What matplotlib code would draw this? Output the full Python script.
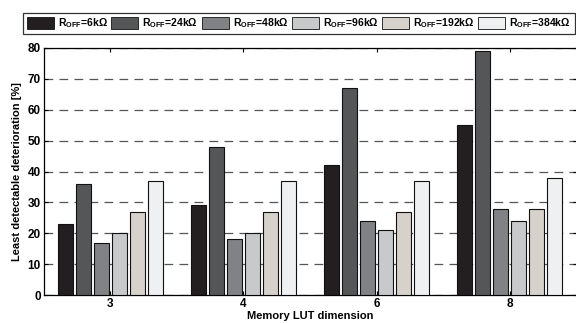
import matplotlib
matplotlib.use("Agg")
import matplotlib.pyplot as plt
import numpy as np
from matplotlib.patches import Patch

plt.rcParams['font.family'] = ['Liberation Sans', 'DejaVu Sans']
plt.rcParams['font.weight'] = 'bold'
plt.rcParams['mathtext.fontset'] = 'custom'
plt.rcParams['mathtext.rm'] = 'Liberation Sans:bold'
plt.rcParams['mathtext.it'] = 'Liberation Sans:bold'
plt.rcParams['mathtext.bf'] = 'Liberation Sans:bold'
plt.rcParams['mathtext.default'] = 'rm'

categories = ['3', '4', '6', '8']
series_labels = [r'R$_{OFF}$=6kΩ', r'R$_{OFF}$=24kΩ', r'R$_{OFF}$=48kΩ',
                 r'R$_{OFF}$=96kΩ', r'R$_{OFF}$=192kΩ', r'R$_{OFF}$=384kΩ']
values = [
    [23, 29, 42, 55],   # 6k
    [36, 48, 67, 79],   # 24k
    [17, 18, 24, 28],   # 48k
    [20, 20, 21, 24],   # 96k
    [27, 27, 27, 28],   # 192k
    [37, 37, 37, 38],   # 384k
]
colors = ['#231f20', '#545658', '#808285', '#c8c9cb', '#d6d2cb', '#eff0f2']
yticks = [0, 10, 20, 30, 40, 50, 60, 70, 80]

fig = plt.figure(figsize=(5.76, 3.23), dpi=100)
ax = fig.add_axes([43.5/576, 1-295/323, 533/576, (295-48)/323])

x = np.arange(len(categories))
step = 0.135
bw = 0.112
for i, (vals, c) in enumerate(zip(values, colors)):
    off = (i - 2.5) * step
    ax.bar(x + off, vals, width=bw, color=c, edgecolor='#111111', linewidth=0.8, zorder=3)

ax.set_xlim(-0.5, len(categories) - 0.5)
ax.set_ylim(0, 80)
ax.set_yticks(yticks)
ax.set_xticks(x)
ax.set_xticklabels(categories)
ax.tick_params(direction='in', top=True, right=True, labelsize=8.5, length=3, width=0.8, pad=2)
for lbl in ax.get_xticklabels() + ax.get_yticklabels():
    lbl.set_fontweight('bold')
ax.yaxis.grid(True, linestyle=(0, (7, 5)), color='#555555', linewidth=0.9, zorder=0)
ax.set_axisbelow(True)
for s in ax.spines.values():
    s.set_linewidth(0.9)

ax.set_ylabel('Least detectable deterioration [%]', fontsize=8, fontweight='bold', labelpad=4)
ax.set_xlabel('Memory LUT dimension', fontsize=8, fontweight='bold', labelpad=1)

handles = [Patch(facecolor=c, edgecolor='#111111', linewidth=0.6) for c in colors]
leg = fig.legend(handles, series_labels, ncol=6, loc='upper left',
                 bbox_to_anchor=(23/576, 1-13/323), fontsize=7.5,
                 frameon=True, fancybox=False, edgecolor='black',
                 handlelength=2.6, handleheight=1.35, handletextpad=0.38,
                 columnspacing=0.35, borderpad=0.35, borderaxespad=0)
leg.get_frame().set_linewidth(0.9)

fig.savefig('out.png', dpi=100)
